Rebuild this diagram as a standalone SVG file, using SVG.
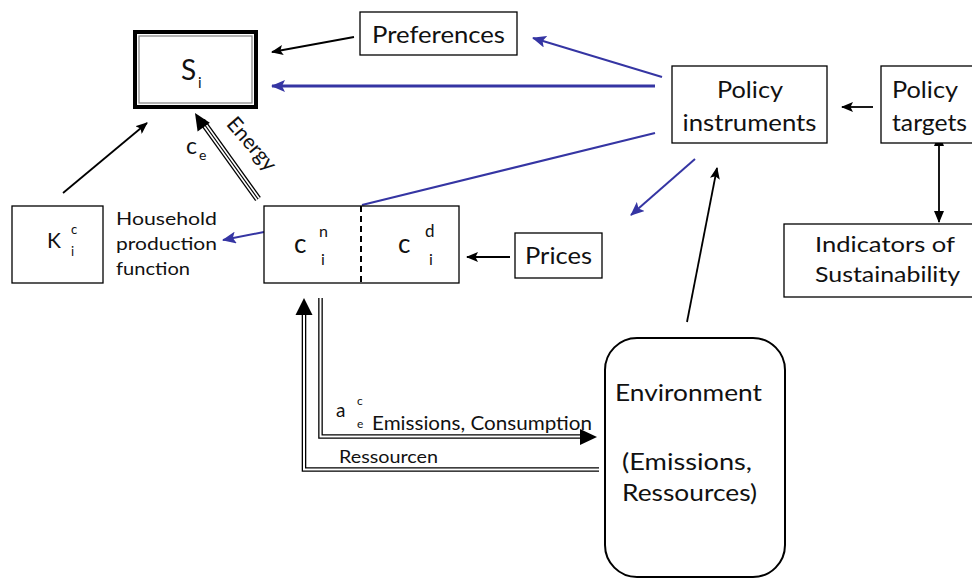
<svg xmlns="http://www.w3.org/2000/svg" width="972" height="579" viewBox="0 0 972 579">
  <style>
    .box { fill: #fff; stroke: #000; stroke-width: 1.3; }
    .t { font-family: Lato, "Open Sans", "Liberation Sans", sans-serif; fill: #111; }
    .lg { font-size: 24px; }
    .md { font-size: 21px; }
    .sm { font-size: 17px; }
    .blk { stroke: #000; stroke-width: 1.8; fill: none; }
    .blu { stroke: #3535a3; stroke-width: 2; fill: none; }
  </style>
  <defs>
    <marker id="ahB" viewBox="0 0 12 10" refX="11" refY="5" markerWidth="12" markerHeight="10" markerUnits="userSpaceOnUse" orient="auto">
      <path d="M0,0 L12,5 L0,10 L2.5,5 Z" fill="#000"/>
    </marker>
    <marker id="ahBs" viewBox="0 0 12 10" refX="1" refY="5" markerWidth="12" markerHeight="10" markerUnits="userSpaceOnUse" orient="auto-start-reverse">
      <path d="M0,0 L12,5 L0,10 Z" fill="#000"/>
    </marker>
    <marker id="ahBe" viewBox="0 0 12 10" refX="11" refY="5" markerWidth="12" markerHeight="10" markerUnits="userSpaceOnUse" orient="auto">
      <path d="M0,0 L12,5 L0,10 Z" fill="#000"/>
    </marker>
    <marker id="ahU" viewBox="0 0 14 12" refX="13" refY="6" markerWidth="14" markerHeight="12" markerUnits="userSpaceOnUse" orient="auto">
      <path d="M0,0 L14,6 L0,12 L3,6 Z" fill="#3535a3"/>
    </marker>
  </defs>

  <!-- connectors -->
  <g id="connectors">
    <!-- Preferences -> S_i -->
    <line class="blk" x1="354" y1="37" x2="272" y2="52" marker-end="url(#ahB)"/>
    <!-- Policy instruments -> Preferences -->
    <line class="blu" x1="662" y1="77" x2="533" y2="38" marker-end="url(#ahU)"/>
    <!-- Policy instruments -> S_i -->
    <line class="blu" style="stroke-width:3" x1="655" y1="86" x2="272" y2="86" marker-end="url(#ahU)"/>
    <!-- Policy instruments to c box -->
    <line class="blu" x1="655" y1="133" x2="362" y2="205"/>
    <!-- Policy instruments -> down-left -->
    <line class="blu" x1="695" y1="159" x2="631" y2="215" marker-end="url(#ahU)"/>
    <!-- Environment -> Policy instruments -->
    <line class="blk" x1="687" y1="322" x2="717" y2="168" marker-end="url(#ahB)"/>
    <!-- Policy targets -> Policy instruments -->
    <line class="blk" x1="873" y1="107" x2="842" y2="107" marker-end="url(#ahB)"/>
    <!-- Policy targets <-> Indicators -->
    <line class="blk" x1="939" y1="145" x2="939" y2="222" marker-start="url(#ahBs)" marker-end="url(#ahBe)"/>
    <!-- Prices -> c box -->
    <line class="blk" x1="510" y1="257" x2="467" y2="257" marker-end="url(#ahB)"/>
    <!-- c box -> Household production function -->
    <line class="blu" x1="264" y1="232" x2="223" y2="240" marker-end="url(#ahU)"/>
    <!-- K -> S_i -->
    <line class="blk" x1="63" y1="193" x2="147" y2="123" marker-end="url(#ahB)"/>

    <!-- Energy: triple line -->
    <g>
      <line x1="258" y1="199" x2="202" y2="121" stroke="#000" stroke-width="7"/>
      <line x1="258" y1="199" x2="202" y2="121" stroke="#fff" stroke-width="4.4"/>
      <line x1="258" y1="199" x2="202" y2="121" stroke="#000" stroke-width="1.2"/>
      <polygon points="195,113 197.6,131.5 209.8,122.7" fill="#000"/>
    </g>

    <!-- Emissions, Consumption: double line to Environment -->
    <g>
      <path d="M320.5,298 V436.5 H581" fill="none" stroke="#000" stroke-width="4.6"/>
      <path d="M320.5,298 V436.5 H581" fill="none" stroke="#fff" stroke-width="2"/>
      <polygon points="597,437 580,429 580,445" fill="#000"/>
    </g>
    <!-- Ressourcen: double line from Environment -->
    <g>
      <path d="M599,469.5 H304 V314" fill="none" stroke="#000" stroke-width="4.6"/>
      <path d="M599,469.5 H304 V314" fill="none" stroke="#fff" stroke-width="2"/>
      <polygon points="304,298 295.5,315 312.5,315" fill="#000"/>
    </g>
  </g>

  <!-- S_i -->
  <g id="node-si">
    <rect x="135" y="32" width="121" height="75" fill="#fff" stroke="#000" stroke-width="4"/>
    <rect x="139" y="36" width="113" height="67" fill="#fff" stroke="#8a8a8a" stroke-width="1.3"/>
    <text class="t" x="181" y="80" font-size="28">S</text>
    <text class="t" x="198" y="88" font-size="15">i</text>
  </g>

  <!-- Preferences -->
  <g id="node-preferences">
    <rect class="box" x="360" y="12" width="157" height="43"/>
    <text class="t lg" x="438.5" y="43" text-anchor="middle" textLength="133" lengthAdjust="spacingAndGlyphs">Preferences</text>
  </g>

  <!-- Policy instruments -->
  <g id="node-policy-instruments">
    <rect class="box" x="672" y="66" width="155" height="77"/>
    <text class="t lg" x="750" y="98" text-anchor="middle" textLength="66" lengthAdjust="spacingAndGlyphs">Policy</text>
    <text class="t lg" x="749.5" y="131" text-anchor="middle" textLength="134" lengthAdjust="spacingAndGlyphs">instruments</text>
  </g>

  <!-- Policy targets -->
  <g id="node-policy-targets">
    <rect class="box" x="881" y="66" width="100" height="77"/>
    <text class="t lg" x="892" y="98" textLength="66" lengthAdjust="spacingAndGlyphs">Policy</text>
    <text class="t lg" x="892" y="131" textLength="75" lengthAdjust="spacingAndGlyphs">targets</text>
  </g>

  <!-- Indicators of Sustainability -->
  <g id="node-indicators">
    <rect class="box" x="784" y="224" width="200" height="73"/>
    <text class="t md" x="815" y="252" textLength="140" lengthAdjust="spacingAndGlyphs">Indicators of</text>
    <text class="t md" x="815" y="282" textLength="145" lengthAdjust="spacingAndGlyphs">Sustainability</text>
  </g>

  <!-- Environment -->
  <g id="node-environment">
    <rect x="605" y="338" width="180" height="239" rx="32" ry="32" fill="#fff" stroke="#000" stroke-width="2"/>
    <text class="t lg" x="615" y="401" textLength="147" lengthAdjust="spacingAndGlyphs">Environment</text>
    <text class="t lg" x="622" y="470" textLength="130" lengthAdjust="spacingAndGlyphs">(Emissions,</text>
    <text class="t lg" x="622" y="501" textLength="135" lengthAdjust="spacingAndGlyphs">Ressources)</text>
  </g>

  <!-- Prices -->
  <g id="node-prices">
    <rect class="box" x="515" y="233" width="87" height="45"/>
    <text class="t lg" x="558.5" y="264" text-anchor="middle" textLength="67" lengthAdjust="spacingAndGlyphs">Prices</text>
  </g>

  <!-- c box (c_i^n | c_i^d) -->
  <g id="node-c">
    <rect class="box" x="264" y="206" width="195" height="77"/>
    <line x1="361" y1="206" x2="361" y2="283" stroke="#000" stroke-width="2" stroke-dasharray="6,4"/>
    <text class="t" x="294" y="253" font-size="26">c</text>
    <text class="t" x="319" y="237" font-size="16">n</text>
    <text class="t" x="321" y="265" font-size="16">i</text>
    <text class="t" x="398" y="253" font-size="26">c</text>
    <text class="t" x="425" y="237" font-size="17">d</text>
    <text class="t" x="429" y="265" font-size="16">i</text>
  </g>

  <!-- K_i^c -->
  <g id="node-k">
    <rect class="box" x="12" y="206" width="91" height="77"/>
    <text class="t" x="47" y="248" font-size="21">K</text>
    <text class="t" x="71" y="234" font-size="13">c</text>
    <text class="t" x="71" y="256" font-size="13">i</text>
  </g>

  <!-- Household production function -->
  <g id="label-household">
    <text class="t sm" x="116" y="225" textLength="101" lengthAdjust="spacingAndGlyphs">Household</text>
    <text class="t sm" x="116" y="250" textLength="101" lengthAdjust="spacingAndGlyphs">production</text>
    <text class="t sm" x="116" y="275" textLength="74" lengthAdjust="spacingAndGlyphs">function</text>
  </g>

  <!-- Energy labels -->
  <g id="label-energy">
    <text class="t" x="186" y="154" font-size="23">c</text>
    <text class="t" x="199" y="160" font-size="14">e</text>
    <text class="t" font-size="21" transform="translate(245,150) rotate(49)" text-anchor="middle" dy="-2">Energy</text>
  </g>

  <!-- flow labels -->
  <g id="label-flows">
    <text class="t" x="336" y="417" font-size="19">a</text>
    <text class="t" x="357" y="405" font-size="12">c</text>
    <text class="t" x="357" y="428" font-size="12">e</text>
    <text class="t" x="372" y="430" font-size="20" textLength="220" lengthAdjust="spacingAndGlyphs">Emissions, Consumption</text>
    <text class="t" x="339" y="463" font-size="17" textLength="99" lengthAdjust="spacingAndGlyphs">Ressourcen</text>
  </g>
</svg>
